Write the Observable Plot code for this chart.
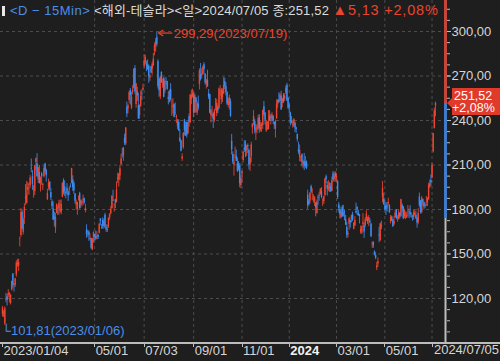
<!DOCTYPE html>
<html><head><meta charset="utf-8">
<script src="https://cdn.jsdelivr.net/npm/d3@7"></script>
<script src="https://cdn.jsdelivr.net/npm/@observablehq/plot@0.6"></script>
<style>
html,body{margin:0;padding:0;background:#1e1e1e;}
#wrap{position:relative;width:500px;height:361px;overflow:hidden;background:#1e1e1e;}
#title{position:absolute;left:0;top:3px;width:443px;overflow:hidden;white-space:nowrap;font:13px "Liberation Sans","Noto Sans CJK KR",sans-serif;color:#dcdcdc;z-index:2;line-height:15px;letter-spacing:0.15px;}
#title .bar{display:inline-block;width:3px;height:10px;background:#e8e8e8;margin:0 5px 0 2px;vertical-align:-1px;}
#title .b{color:#4a8ee8;letter-spacing:0.5px;}
#title .r{color:#e8452f;font-size:14.5px;letter-spacing:0.8px;}
svg{position:absolute;left:0;top:0;}
</style></head><body><div id="wrap"><div id="title"><span class="bar"></span><span class="b">&lt;D − 15Min&gt;</span> &lt;해외-테슬라&gt;&lt;일&gt;2024/07/05 종:251,52 <span class="r">▲5,13 +2,08%</span></div></div>
<script>
// Daily OHLC, 2023/01/04 .. 2024/07/05 (trading days)
const opens = [
109.1,110.5,103.0,119.0,121.1,122.1,122.6,116.6,125.7,136.6,127.3,128.7,135.9,143.0,141.9,160.0,162.4,178.1,164.6,
173.9,187.3,184.0,193.0,196.4,196.1,207.8,202.2,194.4,191.9,211.8,210.8,200.0,205.0,197.9,203.9,196.3,202.0,210.6,
206.2,186.7,194.8,198.5,191.4,185.0,180.3,175.1,167.5,177.3,180.8,180.4,178.9,178.1,188.3,199.3,195.3,191.7,194.4,192.0,193.1,195.6,197.5,
199.9,197.3,190.5,183.1,179.9,186.7,190.7,183.0,184.0,186.3,187.2,179.1,166.2,164.8,164.7,159.8,160.3,152.6,160.9,
163.2,161.9,160.0,162.7,164.0,173.7,169.0,172.6,168.7,176.1,167.7,165.7,168.4,174.2,177.2,180.7,186.2,182.6,186.5,184.6,200.1,199.8,
202.6,210.2,217.8,216.1,228.0,224.2,249.1,247.9,253.5,260.2,248.4,258.9,261.5,275.1,250.8,259.3,250.1,243.2,249.7,258.0,260.6,
276.5,278.8,278.1,277.3,276.5,268.7,276.3,274.6,277.0,286.6,290.2,296.0,279.6,268.0,255.9,272.4,263.7,268.3,259.9,267.5,
266.3,255.6,252.0,261.0,251.5,248.8,250.9,245.4,241.8,235.7,238.7,228.0,226.1,214.1,221.6,240.3,229.3,238.7,231.3,242.6,238.6,254.2,256.0,
257.3,245.0,255.1,245.1,251.2,264.3,270.8,270.1,271.3,277.6,271.2,264.4,267.0,257.9,257.4,243.4,243.0,244.3,240.0,250.0,
244.8,248.6,248.1,260.0,254.0,255.3,257.8,266.2,262.9,258.9,250.1,250.1,252.7,226.0,217.0,210.0,216.5,215.9,211.3,210.6,209.3,196.1,
204.0,213.0,221.2,224.0,220.0,223.2,219.8,210.0,215.6,235.0,239.3,239.5,232.0,234.0,235.0,242.0,233.8,236.9,236.7,249.2,245.1,
233.1,235.8,233.9,242.9,241.6,240.3,242.7,238.6,234.2,241.2,251.2,253.8,253.5,256.4,251.9,256.8,254.5,258.4,263.7,255.1,
250.1,245.0,239.3,236.9,236.1,238.1,235.1,230.6,220.1,215.1,214.9,216.9,210.0,212.3,211.3,211.9,189.7,185.5,185.6,195.3,187.0,
188.5,185.0,184.3,177.2,188.2,189.0,190.2,192.1,184.0,185.3,189.2,202.1,196.1,193.4,194.0,195.3,192.3,204.0,200.4,204.2,
200.5,198.7,183.1,180.0,174.4,181.5,175.5,177.8,173.1,167.8,163.2,170.0,172.4,173.0,176.4,166.7,168.8,178.6,181.4,177.5,
176.2,164.8,164.0,170.1,169.1,169.3,172.9,173.0,172.6,172.3,170.2,156.7,157.6,151.3,149.0,140.6,143.3,162.8,159.0,168.9,188.4,187.0,
182.0,182.9,182.1,183.8,182.4,171.6,175.0,173.1,170.0,174.5,179.9,174.1,173.6,177.6,175.5,182.9,181.8,174.8,176.4,174.2,178.6,178.5,
178.1,174.8,175.4,174.6,176.1,176.1,173.9,171.1,188.4,185.8,177.9,186.6,184.7,182.3,182.2,184.4,186.5,195.2,199.6,
201.0,218.9,234.6,249.8];
const highs = [
114.6,111.8,114.4,123.5,122.8,126.0,124.1,122.6,131.7,136.7,130.0,133.5,145.4,146.5,146.4,161.4,180.7,179.8,174.3,
183.8,196.8,199.0,198.2,197.5,203.0,214.0,206.2,196.3,209.8,214.7,217.7,208.4,209.7,202.0,205.1,197.7,209.4,211.2,
207.2,193.8,200.5,198.6,194.2,186.5,185.2,178.3,177.4,183.8,182.3,186.2,186.2,186.4,198.0,200.7,199.3,192.4,197.4,192.4,195.3,197.3,207.8,
202.7,198.7,190.7,186.4,185.1,189.2,191.6,186.5,186.3,189.7,187.7,183.5,169.7,166.0,165.7,163.5,160.7,160.5,165.0,
163.3,165.5,165.0,163.0,170.8,173.8,169.8,174.4,173.6,177.4,169.8,169.5,174.5,177.1,182.0,189.3,193.0,184.2,186.8,198.6,204.5,204.0,
209.8,217.3,221.3,221.9,230.8,235.2,252.4,251.0,259.7,261.6,259.0,263.6,274.8,277.0,265.0,262.5,258.4,250.4,259.9,260.7,264.5,
284.3,283.9,280.0,280.8,277.5,270.9,276.5,279.5,285.3,292.2,295.3,299.3,280.9,268.0,269.9,272.9,268.0,269.1,267.3,269.1,
266.5,259.5,260.5,264.8,253.7,254.8,251.1,251.8,243.8,240.7,240.5,234.0,226.7,217.6,232.1,240.8,239.0,238.9,239.0,244.4,257.5,260.5,261.2,
259.1,258.0,255.4,252.8,256.5,274.9,278.4,275.0,276.7,279.0,271.4,267.9,273.9,260.9,257.8,247.1,249.6,245.3,247.6,254.8,
254.3,250.0,261.9,263.6,261.7,261.4,268.9,268.6,265.4,259.6,255.4,257.2,254.6,230.6,218.9,217.0,222.1,220.1,214.8,212.4,210.9,202.8,
206.0,219.2,226.4,226.3,223.1,224.2,220.8,215.4,225.4,238.1,246.7,240.9,237.4,237.1,243.6,244.0,238.8,238.3,247.0,252.8,245.2,
240.2,239.4,246.7,246.6,244.1,245.3,243.4,239.0,240.3,253.9,254.1,258.7,258.3,259.8,254.8,258.2,258.0,263.3,265.1,255.2,
251.3,245.7,242.7,240.1,241.3,239.0,235.5,230.9,225.3,223.5,215.7,217.5,213.2,217.8,215.7,212.7,193.0,186.8,191.5,196.4,194.0,
189.9,188.7,184.7,186.5,189.8,191.6,194.1,194.7,187.3,188.9,200.9,203.2,198.6,199.4,198.3,197.6,201.8,205.6,205.3,205.3,
204.5,199.8,184.6,181.6,180.0,182.7,182.9,179.4,176.1,171.2,165.2,174.7,172.8,176.3,178.2,171.2,175.2,184.3,181.9,179.6,
176.8,168.8,168.8,177.2,170.9,174.5,179.2,174.9,175.9,173.8,170.7,158.2,158.3,152.2,150.9,144.4,147.3,168.0,170.9,172.1,198.9,191.0,
185.9,184.6,184.8,187.6,183.3,176.1,175.6,173.1,175.4,179.5,180.0,175.8,179.6,177.8,186.9,183.8,181.9,180.1,178.3,178.2,182.7,180.3,
182.6,177.8,176.2,179.7,179.4,178.6,174.8,180.6,191.1,186.0,188.8,187.2,185.2,184.0,188.8,188.0,197.8,199.8,203.2,
211.0,231.3,248.4,252.4];
const lows = [
107.5,107.2,101.8,117.1,114.9,120.5,117.0,115.6,125.0,127.0,124.3,127.4,134.3,141.1,138.1,154.8,161.2,166.5,162.8,
169.9,182.6,183.7,189.9,189.6,194.3,204.8,192.9,187.6,189.4,206.1,201.8,197.5,197.2,191.8,196.3,192.8,201.3,203.8,
198.5,186.0,192.9,192.3,186.1,180.0,172.5,168.4,163.9,177.1,176.0,176.1,177.3,176.4,188.0,189.8,188.7,187.2,189.9,185.4,189.4,194.4,197.2,
192.2,190.3,183.8,179.7,176.1,185.7,180.3,180.9,182.0,182.7,183.6,177.7,160.6,161.3,158.6,158.8,153.1,152.4,157.3,
158.8,158.9,159.9,159.7,163.5,169.2,166.6,166.7,166.8,167.2,164.6,164.4,167.2,172.5,176.3,180.1,185.3,178.2,180.6,184.5,197.5,195.1,
199.4,209.8,214.5,212.5,223.2,223.0,242.0,244.6,251.3,250.5,247.3,257.2,261.1,257.8,248.3,252.8,240.7,240.9,248.9,253.6,259.9,
275.1,277.6,272.9,273.8,265.1,266.4,271.5,270.6,276.3,283.6,286.0,289.5,261.2,255.8,254.1,265.0,261.8,255.3,258.2,263.8,
260.3,250.5,252.0,253.1,242.8,244.3,241.9,243.5,238.0,233.8,232.6,225.4,218.8,212.4,220.6,229.6,229.3,228.2,230.4,235.4,237.8,250.6,255.1,
242.0,244.9,245.1,243.3,246.7,260.6,266.6,268.1,270.4,271.0,263.8,261.2,262.5,254.2,244.5,238.3,241.7,234.6,238.7,246.4,
242.6,244.5,247.6,256.3,250.7,252.1,257.7,260.9,256.6,250.2,248.5,247.1,242.1,216.8,210.4,202.5,214.1,212.2,204.9,205.8,194.7,194.1,
197.9,211.5,218.4,215.0,215.7,217.6,206.7,205.7,211.6,230.7,236.5,231.0,226.5,231.0,233.3,231.4,232.3,232.1,234.0,242.8,236.9,
231.9,233.3,233.7,239.2,237.0,239.3,237.5,233.9,228.2,240.8,248.3,251.4,253.0,247.0,248.6,251.4,252.9,257.5,252.7,247.4,
244.4,236.3,237.7,234.9,235.3,232.0,231.3,225.4,217.2,212.2,212.0,208.7,207.6,206.3,207.8,206.8,180.1,182.1,183.7,190.6,185.9,
184.3,182.0,175.0,177.1,182.7,185.6,189.5,187.3,182.1,183.4,188.9,197.4,189.1,192.0,191.4,191.5,192.0,198.3,198.4,198.5,
198.5,186.7,177.6,173.7,173.7,174.7,174.8,172.4,169.2,160.5,160.8,165.9,167.4,170.8,171.8,166.3,168.7,177.0,176.0,175.3,
170.2,163.3,163.3,168.0,160.5,167.8,171.9,170.0,168.5,170.4,161.4,153.8,153.8,148.7,146.2,138.8,141.1,157.5,158.4,166.4,184.5,182.8,
179.0,176.0,178.4,182.2,177.4,170.2,172.0,167.8,169.0,174.1,173.1,171.4,172.8,173.5,174.7,178.1,173.3,173.7,173.2,173.9,175.4,173.8,
174.5,174.0,172.1,172.7,175.6,173.2,167.4,169.8,181.2,176.9,177.0,182.4,179.7,180.7,182.1,182.0,186.4,194.2,195.3,
200.8,218.1,234.3,242.5];
const closes = [
113.6,110.3,113.1,119.8,118.9,123.2,123.6,122.4,131.5,128.8,127.2,133.4,143.8,143.9,144.4,160.3,177.9,166.7,173.2,
181.4,188.3,190.0,194.8,196.8,201.3,207.3,196.9,194.6,209.3,214.2,202.0,208.3,197.4,200.9,202.1,196.9,207.6,205.7,
202.8,190.9,197.8,193.8,187.7,182.0,172.9,173.4,174.5,183.3,180.5,184.1,180.1,183.3,197.6,191.2,192.2,190.4,191.8,189.2,193.9,195.3,207.5,
194.8,192.6,185.5,185.1,184.5,186.8,180.5,185.9,185.0,187.0,184.3,180.6,163.0,165.1,162.6,160.7,153.8,160.2,164.3,
161.8,160.3,160.6,161.2,170.1,171.8,169.2,168.5,172.1,168.0,166.4,166.5,173.9,176.9,180.1,188.9,185.8,182.9,184.5,193.2,201.2,203.9,
207.5,214.0,217.6,221.3,224.6,234.9,244.4,249.8,258.7,256.8,255.9,260.5,274.5,259.5,264.6,256.6,241.1,250.2,256.2,257.5,261.8,
279.8,282.5,276.5,274.4,269.6,269.8,272.0,277.9,281.4,290.4,293.3,291.3,262.9,260.0,269.1,265.3,264.4,255.7,266.4,267.4,
261.1,254.1,259.3,253.9,251.5,249.7,242.2,245.3,242.7,239.8,233.0,225.6,219.2,215.5,231.3,233.2,236.9,230.0,238.6,238.8,257.2,256.9,258.1,
245.0,256.5,251.9,251.5,248.5,273.6,267.5,271.3,276.0,274.4,265.3,266.5,262.6,255.7,244.9,247.0,244.1,240.5,246.4,250.2,
251.6,246.5,261.2,260.1,260.5,259.7,263.6,263.0,258.9,251.1,253.9,254.9,242.7,220.1,212.0,212.1,216.5,212.4,205.8,207.3,197.4,200.8,
205.7,218.5,220.0,219.3,222.2,222.1,210.0,214.7,223.7,237.4,242.8,233.6,234.3,235.6,241.2,234.2,235.5,236.1,246.7,244.1,240.1,
238.8,235.6,238.7,239.4,242.6,243.8,239.7,237.0,239.3,251.1,253.5,252.1,257.2,247.1,254.5,252.5,256.6,261.4,253.2,248.5,
248.4,238.5,237.9,237.5,240.5,235.0,233.9,227.2,218.9,219.9,215.6,211.9,212.2,208.8,209.1,207.8,182.6,183.3,190.9,191.6,187.3,
188.9,187.9,181.1,185.1,187.6,189.6,193.6,188.1,184.0,188.7,200.5,200.0,193.8,194.8,197.4,192.0,199.4,199.7,202.0,201.9,
202.6,188.1,180.7,176.5,178.7,175.3,177.8,177.5,169.5,162.5,163.6,173.8,171.3,175.7,172.8,170.8,172.6,177.7,179.8,175.8,
175.2,166.6,168.4,171.1,164.9,173.0,176.9,171.8,174.6,171.1,161.5,157.1,155.5,149.9,147.1,142.1,144.7,162.1,170.2,168.3,194.1,183.3,
180.0,180.0,181.2,184.8,177.8,174.7,172.0,168.5,171.9,177.6,174.0,174.8,177.5,175.0,186.6,180.1,173.7,179.2,176.8,176.2,178.8,178.1,
176.3,174.8,175.0,177.9,177.5,173.8,170.7,177.3,182.5,178.0,187.4,184.9,181.6,183.0,182.6,187.4,196.4,197.4,197.9,
209.9,231.3,246.4,251.5];

// axis ticks
const yTicks = [120, 150, 180, 210, 240, 270, 300];
const yMinorTicks = d3.range(90, 322, 7.5);
const xTickIdx = [0, 80, 123, 166, 208, 249, 290, 332, 373];
const xTickLabels = ["2023/01/04", "05/01", "07/03", "09/01", "11/01", "2024", "03/01", "05/01", ""];
const lastLabel = "2024/07/05";
const peak = {i: 134, v: 299.29, label: "299,29(2023/07/19)"};
const trough = {i: 2, v: 101.81, label: "└101,81(2023/01/06)"};
const lastClose = 251.52, lastPct = "+2,08%";
const rangeLow = 174;

const N = closes.length;
if ([opens, highs, lows].some(a => a.length !== N)) throw new Error("len " + [opens.length, highs.length, lows.length, N]);
const data = d3.range(N).map(i => ({i, o: opens[i], h: highs[i], l: lows[i], c: closes[i]}));
const up = data.filter(d => d.c >= d.o), dn = data.filter(d => d.c < d.o);
const UP = "#ee4530", DN = "#3c8cf2", GRID = "#4c4c4c", AX = "#bcbcbc", TXT = "#d6d6d6", RED = "#e8452f";
const fmt = v => v.toFixed(2).replace(".", ",");
const font = "Liberation Sans";

const plot = Plot.plot({
  width: 500, height: 361,
  marginLeft: 0, marginRight: 54, marginTop: 0, marginBottom: 19,
  style: {background: "#1e1e1e", color: TXT, fontFamily: font, fontSize: "13px", overflow: "visible"},
  x: {type: "linear", domain: [0, N - 1], range: [2, 435], axis: null},
  y: {type: "linear", domain: [90.34, 320.9], range: [342, 0], axis: null},
  marks: [
    Plot.gridY(yTicks, {stroke: GRID, strokeOpacity: 1, strokeDasharray: "3,3"}),
    Plot.gridX(xTickIdx.slice(1), {stroke: GRID, strokeOpacity: 1, strokeDasharray: "3,3"}),
    Plot.ruleX(up, {x: "i", y1: "l", y2: "h", stroke: UP, strokeWidth: 1, strokeOpacity: 0.85}),
    Plot.ruleX(dn, {x: "i", y1: "l", y2: "h", stroke: DN, strokeWidth: 1, strokeOpacity: 0.85}),
    Plot.ruleX(up, {x: "i", y1: "o", y2: "c", stroke: UP, strokeWidth: 1.4}),
    Plot.ruleX(dn, {x: "i", y1: "o", y2: "c", stroke: DN, strokeWidth: 1.4}),
    Plot.axisY(yMinorTicks, {anchor: "right", tickSize: 3, tickFormat: () => "", stroke: AX}),
    Plot.axisY(yTicks, {anchor: "right", tickSize: 4, tickPadding: 1, tickFormat: fmt, stroke: AX, fill: TXT, fontSize: 13}),
    Plot.text(xTickIdx, {x: d => d, text: (d, k) => xTickLabels[k] === "2024" ? "" : xTickLabels[k], frameAnchor: "bottom", lineAnchor: "top", textAnchor: "start", dx: 1, dy: 3, fill: TXT, fontSize: 13}),
    Plot.text(xTickIdx.filter((d, k) => xTickLabels[k] === "2024"), {x: d => d, text: () => "2024", frameAnchor: "bottom", lineAnchor: "top", textAnchor: "start", dx: 1, dy: 3, fill: "#f2f2f2", fontWeight: "bold", fontSize: 13}),
    Plot.text([peak], {x: "i", y: "v", text: "label", textAnchor: "start", dx: 17, dy: 1, fill: RED, fontSize: 13}),
    Plot.text([trough], {x: "i", y: "v", text: "label", textAnchor: "start", lineAnchor: "top", dx: -3, dy: 0, fill: "#4a8ee8", fontSize: 13})
  ]
});
document.getElementById("wrap").appendChild(plot);

// decorations positioned through the plot's scales
const sx = plot.scale("x").apply, sy = plot.scale("y").apply;
const svg = d3.select(plot);
const xr = 500 - 54, yb = sy(90.34);
const g = svg.append("g").attr("text-anchor", "start").attr("font-family", font).attr("font-size", 13);
// peak arrow
const px = sx(peak.i), py = sy(peak.v) + 1;
g.append("line").attr("x1", px + 3).attr("x2", px + 16).attr("y1", py).attr("y2", py).attr("stroke", RED).attr("stroke-width", 1.2);
g.append("path").attr("d", `M${px + 2},${py} L${px + 7},${py - 3} M${px + 2},${py} L${px + 7},${py + 3}`).attr("stroke", RED).attr("stroke-width", 1.2).attr("fill", "none");
// bottom axis line & ticks
g.append("line").attr("x1", 0).attr("x2", 500).attr("y1", yb + 1).attr("y2", yb + 1).attr("stroke", AX).attr("stroke-width", 2);
xTickIdx.forEach(i => g.append("line").attr("x1", Math.round(sx(i)) + 0.5).attr("x2", Math.round(sx(i)) + 0.5).attr("y1", yb).attr("y2", yb + 5).attr("stroke", AX));
g.append("text").attr("x", 499).attr("y", yb + 3).attr("dy", "0.71em").attr("text-anchor", "end").attr("fill", TXT).text(lastLabel);
// right axis line with colored range bar
g.append("line").attr("x1", xr - 0.5).attr("x2", xr - 0.5).attr("y1", 0).attr("y2", yb + 2).attr("stroke", AX).attr("stroke-width", 2);
g.append("line").attr("x1", xr - 0.5).attr("x2", xr - 0.5).attr("y1", 0).attr("y2", sy(lastClose)).attr("stroke", "#e23a2a").attr("stroke-width", 2.5);
g.append("line").attr("x1", xr - 0.5).attr("x2", xr - 0.5).attr("y1", sy(lastClose)).attr("y2", sy(rangeLow)).attr("stroke", "#2f7fe6").attr("stroke-width", 2.5);
// last price box
const yc = sy(lastClose);
g.append("path").attr("d", `M${xr + 1},${yc} L${xr + 6},${yc - 5} L${xr + 6},${yc - 15} L500,${yc - 15} L500,${yc + 12} L${xr + 6},${yc + 12} L${xr + 6},${yc + 5} Z`).attr("fill", "#e03a2b");
g.append("text").attr("x", xr + 8).attr("y", yc - 3).attr("fill", "#fff").attr("font-size", 12.5).text(fmt(lastClose));
g.append("text").attr("x", xr + 6).attr("y", yc + 9.5).attr("fill", "#fff").attr("font-size", 12.5).text(lastPct);
</script></body></html>
